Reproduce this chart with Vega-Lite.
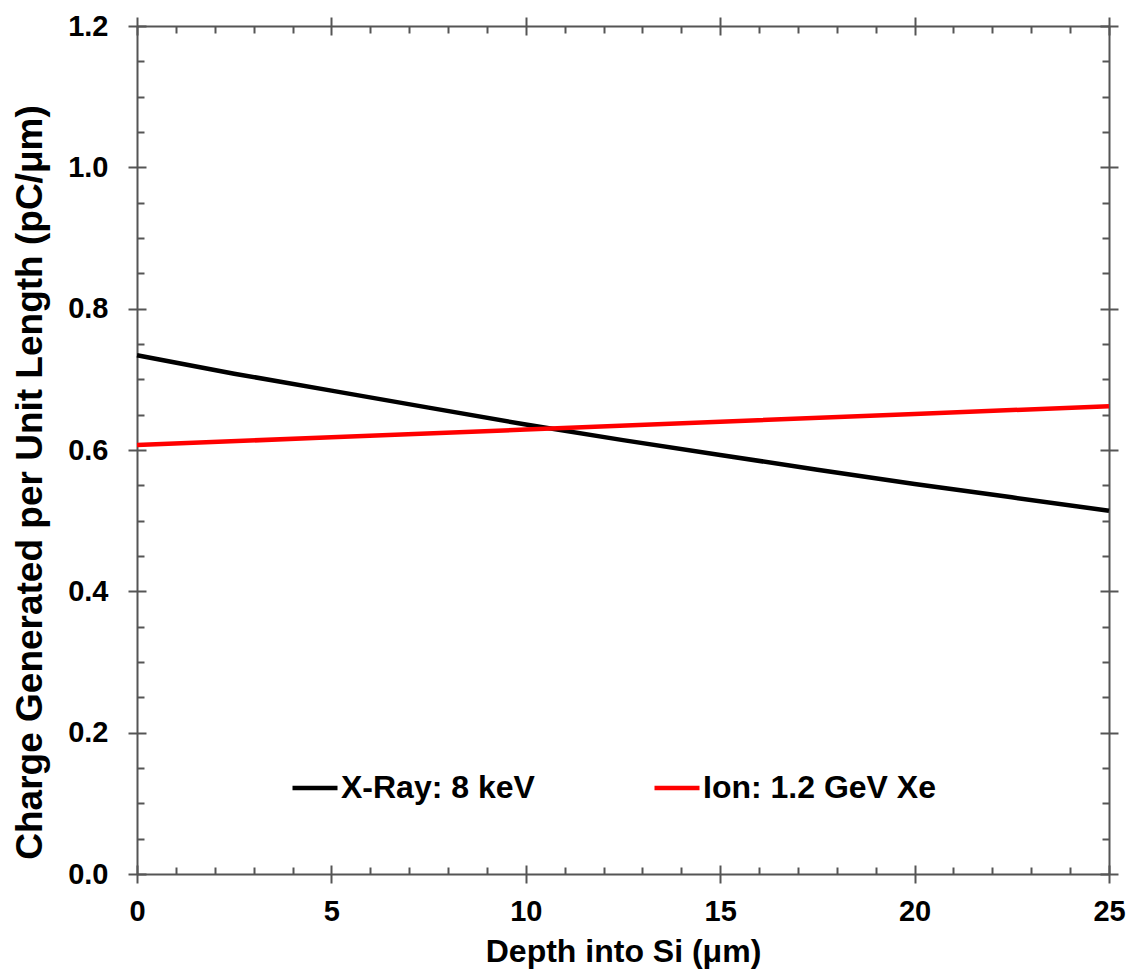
{
  "$schema": "https://vega.github.io/schema/vega-lite/v6.json",
  "width": 972,
  "height": 848,
  "autosize": {"type": "none"},
  "padding": {"left": 137, "top": 26, "right": 20, "bottom": 96},
  "background": "white",
  "datasets": {
    "lines": [
      {"series": "X-Ray: 8 keV", "depth": 0, "charge": 0.734},
      {"series": "X-Ray: 8 keV", "depth": 2.5, "charge": 0.708},
      {"series": "X-Ray: 8 keV", "depth": 5, "charge": 0.684},
      {"series": "X-Ray: 8 keV", "depth": 7.5, "charge": 0.660},
      {"series": "X-Ray: 8 keV", "depth": 10, "charge": 0.636},
      {"series": "X-Ray: 8 keV", "depth": 12.5, "charge": 0.614},
      {"series": "X-Ray: 8 keV", "depth": 15, "charge": 0.593},
      {"series": "X-Ray: 8 keV", "depth": 17.5, "charge": 0.572},
      {"series": "X-Ray: 8 keV", "depth": 20, "charge": 0.552},
      {"series": "X-Ray: 8 keV", "depth": 22.5, "charge": 0.533},
      {"series": "X-Ray: 8 keV", "depth": 25, "charge": 0.514},
      {"series": "Ion: 1.2 GeV Xe", "depth": 0, "charge": 0.607},
      {"series": "Ion: 1.2 GeV Xe", "depth": 5, "charge": 0.618},
      {"series": "Ion: 1.2 GeV Xe", "depth": 10, "charge": 0.629},
      {"series": "Ion: 1.2 GeV Xe", "depth": 15, "charge": 0.640},
      {"series": "Ion: 1.2 GeV Xe", "depth": 20, "charge": 0.651},
      {"series": "Ion: 1.2 GeV Xe", "depth": 25, "charge": 0.662}
    ]
  },
  "data": {"name": "lines"},
  "config": {
    "view": {"stroke": null},
    "axis": {
      "grid": false,
      "domainColor": "#555555",
      "domainWidth": 2,
      "tickColor": "#555555",
      "tickWidth": 2,
      "labelFont": "Liberation Sans",
      "labelFontWeight": "bold",
      "labelFontSize": 29,
      "labelColor": "#000000",
      "labelFlush": false,
      "labelOverlap": false,
      "titleFont": "Liberation Sans",
      "titleFontWeight": "bold",
      "titleColor": "#000000"
    },
    "legend": {
      "labelFont": "Liberation Sans",
      "labelFontWeight": "bold",
      "labelFontSize": 32,
      "labelColor": "#000000"
    }
  },
  "resolve": {"axis": {"x": "independent", "y": "independent"}},
  "layer": [
    {
      "mark": {"type": "line", "strokeWidth": 4.5},
      "encoding": {
        "x": {
          "field": "depth", "type": "quantitative",
          "scale": {"domain": [0, 25], "nice": false, "zero": false},
          "axis": {
            "orient": "bottom",
            "values": [0, 5, 10, 15, 20, 25],
            "format": "d",
            "tickSize": 9,
            "labelPadding": 14,
            "title": "Depth into Si (μm)",
            "titleFontSize": 32,
            "titlePadding": 10
          }
        },
        "y": {
          "field": "charge", "type": "quantitative",
          "scale": {"domain": [0, 1.2], "nice": false, "zero": false},
          "axis": {
            "orient": "left",
            "values": [0, 0.2, 0.4, 0.6, 0.8, 1.0, 1.2],
            "format": ".1f",
            "tickSize": 9,
            "labelPadding": 20,
            "title": "Charge Generated per Unit Length (pC/μm)",
            "titleFontSize": 37,
            "titleY": 456,
            "titlePadding": 18
          }
        },
        "color": {
          "field": "series", "type": "nominal",
          "scale": {"domain": ["X-Ray: 8 keV", "Ion: 1.2 GeV Xe"], "range": ["#000000", "#ff0000"]},
          "legend": {
            "title": null,
            "orient": "none",
            "legendX": 153,
            "legendY": 737,
            "direction": "horizontal",
            "symbolType": "stroke",
            "symbolSize": 2025,
            "symbolStrokeWidth": 4.5,
            "labelOffset": 1,
            "columnPadding": 110,
            "labelLimit": 400,
            "padding": 0
          }
        }
      }
    },
    {
      "mark": {"type": "line", "opacity": 0},
      "encoding": {
        "x": {"field": "depth", "type": "quantitative",
          "axis": {"orient": "bottom", "values": [0, 5, 10, 15, 20, 25], "tickSize": -9, "domain": false, "labels": false, "title": null}},
        "y": {"field": "charge", "type": "quantitative",
          "axis": {"orient": "left", "values": [0, 0.2, 0.4, 0.6, 0.8, 1.0, 1.2], "tickSize": -9, "domain": false, "labels": false, "title": null}}
      }
    },
    {
      "mark": {"type": "line", "opacity": 0},
      "encoding": {
        "x": {"field": "depth", "type": "quantitative",
          "axis": {"orient": "bottom", "values": [1, 2, 3, 4, 6, 7, 8, 9, 11, 12, 13, 14, 16, 17, 18, 19, 21, 22, 23, 24], "tickSize": -7, "domain": false, "labels": false, "title": null}},
        "y": {"field": "charge", "type": "quantitative",
          "axis": {"orient": "left", "values": [0.05, 0.1, 0.15, 0.25, 0.3, 0.35, 0.45, 0.5, 0.55, 0.65, 0.7, 0.75, 0.85, 0.9, 0.95, 1.05, 1.1, 1.15], "tickSize": -7, "domain": false, "labels": false, "title": null}}
      }
    },
    {
      "mark": {"type": "line", "opacity": 0},
      "encoding": {
        "x": {"field": "depth", "type": "quantitative",
          "axis": {"orient": "top", "values": [0, 5, 10, 15, 20, 25], "tickSize": 9, "labels": false, "title": null}},
        "y": {"field": "charge", "type": "quantitative",
          "axis": {"orient": "right", "values": [0, 0.2, 0.4, 0.6, 0.8, 1.0, 1.2], "tickSize": 9, "labels": false, "title": null}}
      }
    },
    {
      "mark": {"type": "line", "opacity": 0},
      "encoding": {
        "x": {"field": "depth", "type": "quantitative",
          "axis": {"orient": "top", "values": [0, 5, 10, 15, 20, 25], "tickSize": -9, "domain": false, "labels": false, "title": null}},
        "y": {"field": "charge", "type": "quantitative",
          "axis": {"orient": "right", "values": [0, 0.2, 0.4, 0.6, 0.8, 1.0, 1.2], "tickSize": -9, "domain": false, "labels": false, "title": null}}
      }
    },
    {
      "mark": {"type": "line", "opacity": 0},
      "encoding": {
        "x": {"field": "depth", "type": "quantitative",
          "axis": {"orient": "top", "values": [1, 2, 3, 4, 6, 7, 8, 9, 11, 12, 13, 14, 16, 17, 18, 19, 21, 22, 23, 24], "tickSize": -7, "domain": false, "labels": false, "title": null}},
        "y": {"field": "charge", "type": "quantitative",
          "axis": {"orient": "right", "values": [0.05, 0.1, 0.15, 0.25, 0.3, 0.35, 0.45, 0.5, 0.55, 0.65, 0.7, 0.75, 0.85, 0.9, 0.95, 1.05, 1.1, 1.15], "tickSize": -7, "domain": false, "labels": false, "title": null}}
      }
    }
  ]
}
